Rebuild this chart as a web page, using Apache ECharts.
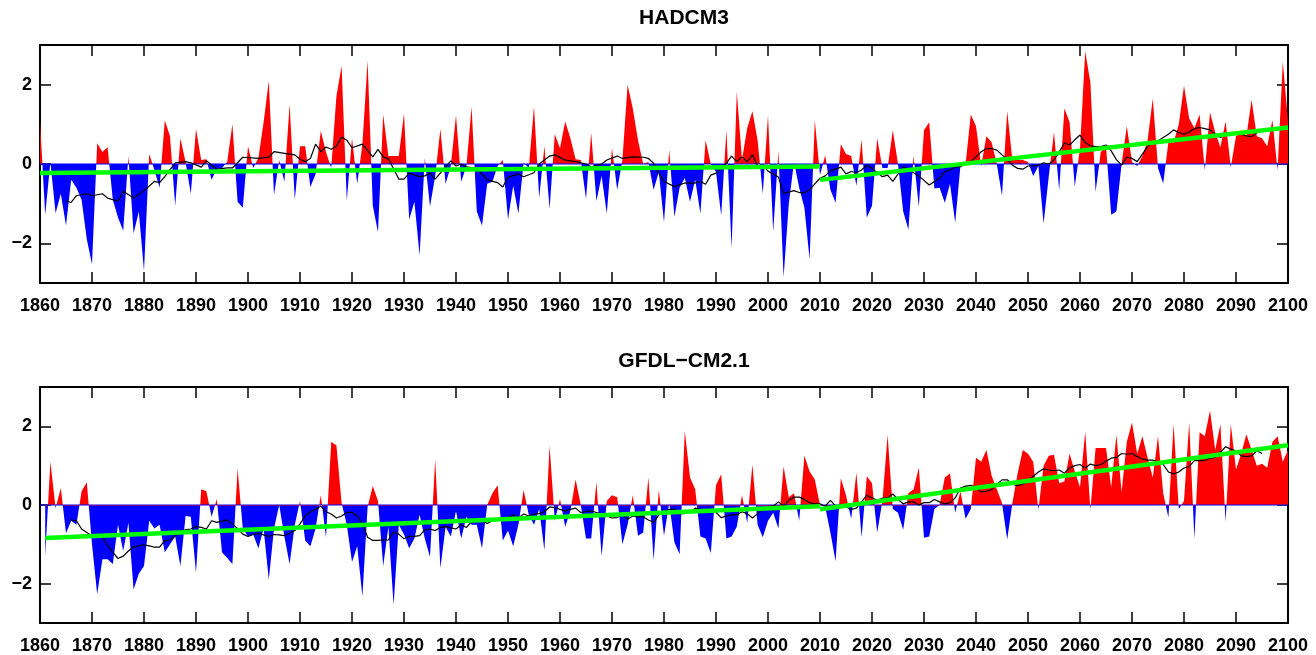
<!DOCTYPE html>
<html>
<head>
<meta charset="utf-8">
<title>HADCM3 / GFDL-CM2.1</title>
<script src="https://cdn.jsdelivr.net/npm/echarts@6/dist/echarts.min.js"></script>
<style>
  html, body { margin: 0; padding: 0; background: #fff; }
  #chart { width: 1316px; height: 655px; }
</style>
</head>
<body>
<div id="chart"></div>
<script>
// ---- data ----
const xTicks = [1860, 2100];
const yTickVals = [-2, 0, 2];

// HADCM3, yearly anomalies 1860..2100 (one row per decade)
const hadStart = 1860;
const hadValues = [
  1.1, -1.28, 0.05, -1.24, -0.75, -1.55, -0.4, -0.6, -0.9, -1.9,
  -2.53, 0.52, 0.3, 0.42, -0.9, -1.35, -1.68, 0.2, -1.75, -1.2,
  -2.7, 0.25, -0.15, -0.6, 1.1, 0.7, -1.05, 0.65, 0.05, -0.75,
  0.88, 0.1, 0.12, -0.4, -0.12, -0.1, 0.05, 1.0, -0.95, -1.1,
  0.45, -0.1, 0.15, 1.05, 2.1, -0.78, 0.1, -0.45, 1.5, -0.9,
  0.45, 0.45, -0.58, -0.25, 0.83, 0.3, -0.1, 1.7, 2.48, -0.92,
  0.65, -0.5, 0.5, 2.6, -1.05, -1.72, 1.25, 0.2, 0.2, 0.2,
  1.27, -1.4, -0.95, -2.3, 0.15, -1.07, -0.3, 0.88, -0.5, -0.05,
  1.23, -0.45, -0.05, 1.44, -1.2, -1.55, -0.5, -0.45, -0.05, 0.1,
  -1.4, -0.55, -1.25, 0.03, -0.1, 1.45, -0.85, 0.45, -1.13, 0.75,
  0.4, 1.07, 0.65, 0.12, 0.1, -0.88, 0.78, -0.93, -0.3, -1.25,
  0.4, -0.65, 0.1, 2.0, 1.4, 0.6, 0.0, 0.05, -0.65, -0.2,
  -1.47, 0.35, -1.33, -0.6, -0.35, -0.95, -0.4, -1.25, 0.6, 0.0,
  -0.2, -1.3, 0.85, -2.12, 1.82, 0.1, 0.9, 1.33, 0.6, -0.75,
  1.22, -1.7, 0.33, -2.85, -1.0, 0.05, -0.6, -1.1, -2.4, 1.1,
  -0.28, 0.22, -0.65, -0.98, 0.5, 0.25, 0.2, -0.55, 0.62, -1.35,
  -1.05, 0.65, -0.1, -0.1, 0.85, 0.0, -1.2, -1.65, 0.2, -1.08,
  0.85, 1.05, -0.62, -0.6, -0.98, -0.5, -1.48, -0.05, 0.0, 1.25,
  0.95, -0.05, 0.7, 0.55, 0.0, -0.8, 1.33, 0.1, 0.1, 0.1,
  0.05, -0.3, -0.05, -1.5, -0.3, 0.8, -0.66, 1.4, 1.05, -0.57,
  0.4, 2.84, 2.05, -0.7, 0.3, 0.45, -1.28, -1.2, 0.0, 0.95,
  0.05, -0.05, 0.2, 0.6, 1.65, -0.1, -0.49, 0.55, 0.55, 1.0,
  1.97, 1.15, 0.9, 1.25, -0.15, 1.3, 0.8, 0.42, 1.07, -0.08,
  0.7, 0.85, 0.7, 1.62, 0.7, 0.65, 0.45, 1.1, -0.15, 2.58,
  1.1
];

// HADCM3 running mean (black)
const hadMeanYears = [
  1865, 1866, 1867, 1869, 1870, 1872, 1873, 1875, 1876, 1878, 1880, 1882, 1883, 1884, 1886, 1888, 1889,
  1891, 1892, 1894, 1896, 1897, 1899, 1902, 1904, 1905, 1907, 1909, 1910, 1911, 1912, 1913, 1914, 1915,
  1916, 1917, 1918, 1919, 1920, 1922, 1924, 1925, 1926, 1927, 1929, 1930, 1931, 1933, 1934, 1935, 1936,
  1938, 1939, 1940, 1941, 1942, 1944, 1946, 1948, 1949, 1950, 1952, 1953, 1955, 1956, 1958, 1959, 1961,
  1963, 1965, 1966, 1968, 1969, 1971, 1972, 1974, 1976, 1977, 1978, 1979, 1980, 1982, 1984, 1986, 1987,
  1988, 1989, 1990, 1992, 1993, 1994, 1995, 1996, 1997, 1998, 1999, 2000, 2001, 2002, 2003, 2005, 2006,
  2007, 2008, 2009, 2010, 2011, 2012, 2013, 2014, 2015, 2016, 2017, 2018, 2019, 2020, 2022, 2023, 2024,
  2026, 2027, 2028, 2029, 2031, 2032, 2033, 2034, 2035, 2036, 2037, 2038, 2039, 2040, 2041, 2042, 2043,
  2044, 2045, 2046, 2047, 2048, 2049, 2050, 2051, 2052, 2053, 2054, 2055, 2056, 2057, 2058, 2059, 2060,
  2061, 2062, 2063, 2064, 2065, 2066, 2067, 2068, 2069, 2070, 2071, 2072, 2073, 2074, 2075, 2076, 2077,
  2078, 2079, 2080, 2081, 2082, 2083, 2084, 2085, 2086, 2087, 2088, 2089, 2090, 2091, 2092, 2093, 2094, 2095
];
const hadMean = [
  -0.93, -0.97, -0.8, -0.75, -0.8, -0.75, -0.86, -0.94, -0.69, -0.86, -0.67, -0.44, -0.47, -0.32, 0.03, 0.06, 0.03,
  -0.08, 0.08, -0.13, -0.1, -0.1, 0.17, 0.14, 0.17, 0.31, 0.27, 0.23, 0.12, 0.06, 0.14, 0.5, 0.31, 0.43,
  0.37, 0.45, 0.68, 0.6, 0.41, 0.5, 0.18, 0.37, 0.18, 0.13, -0.38, -0.38, -0.23, -0.32, -0.3, -0.23, -0.38,
  -0.07, 0.08, -0.05, 0.0, -0.07, -0.11, -0.4, -0.47, -0.58, -0.33, -0.25, -0.32, -0.22, 0.0, 0.2, 0.23, 0.1,
  0.06, 0.0, -0.07, 0.0, 0.1, 0.2, 0.14, 0.18, 0.17, 0.14, 0.02, -0.23, -0.44, -0.57, -0.48, -0.48, -0.44,
  -0.51, -0.28, -0.23, 0.02, 0.2, 0.06, 0.18, 0.06, 0.23, -0.05, -0.03, -0.18, -0.25, -0.33, -0.74, -0.67, -0.72,
  -0.72, -0.65, -0.5, -0.36, -0.3, -0.17, -0.13, -0.08, -0.25, -0.19, -0.22, -0.15, -0.03, -0.11, -0.32, -0.28, -0.44,
  -0.07, -0.15, -0.22, -0.3, -0.53, -0.44, -0.36, -0.19, -0.15, -0.08, -0.07, 0.02, 0.06, 0.18, 0.31, 0.39, 0.39,
  0.35, 0.23, 0.12, -0.03, -0.11, -0.13, -0.05, -0.05, -0.03, 0.03, 0.0, 0.1, 0.3, 0.53, 0.48, 0.61, 0.73,
  0.54, 0.46, 0.44, 0.44, 0.48, 0.33, 0.11, -0.03, 0.17, 0.14, 0.06, 0.25, 0.44, 0.53, 0.58, 0.67, 0.75,
  0.86, 0.79, 0.75, 0.81, 0.89, 0.92, 0.89, 0.86, 0.75, 0.67, 0.73, 0.75, 0.77, 0.75, 0.71, 0.69, 0.79, 0.84
];

// HADCM3 trend segments (green)
const hadTrendYears1 = [1860, 2010];
const hadTrend1 = [-0.23, -0.06];
const hadTrendYears2 = [2010, 2100];
const hadTrend2 = [-0.4, 0.92];

// GFDL-CM2.1, yearly anomalies 1861..2100
const gfdlStart = 1861;
const gfdlValues = [
  -1.3, 1.1, -0.08, 0.43, -0.72, -0.4, -0.5, 0.35, 0.58,
  -1.0, -2.27, -1.38, -1.38, -1.5, -0.5, -1.17, -0.45, -2.15, -1.75,
  -1.55, -0.4, -0.6, -0.5, -1.2, -1.0, -0.8, -1.55, -0.28, -0.3,
  -1.72, 0.4, 0.35, -0.3, 0.15, -1.2, -1.35, -1.5, 0.92, -0.6,
  -0.8, -0.75, -1.1, -0.6, -1.9, -0.6, 0.0, -0.8, -1.5, -0.5,
  0.1, -0.9, -1.05, -0.6, 0.25, -0.82, 1.6, 1.52, 0.05, -0.5,
  -1.45, -1.05, -2.32, -0.05, 0.48, 0.1, -1.55, -0.55, -2.54, -0.5,
  -0.75, -1.1, -0.85, -0.25, -0.85, -1.32, 1.16, -1.6, -0.55, -0.8,
  -0.15, -0.85, -0.3, -0.5, -0.5, -1.1, 0.0, 0.3, 0.5, -0.9,
  -0.65, -1.05, -0.5, 0.38, -0.25, -0.5, -0.1, -1.15, 1.5, -0.4,
  0.15, -0.55, -0.15, 0.65, 0.0, -0.85, -0.85, 0.58, -1.3, 0.1,
  0.25, 0.2, -1.0, -0.5, 0.25, -0.78, -0.7, 0.7, -1.4, 0.38,
  -0.78, 0.05, -0.95, -1.25, 1.88, 0.7, 0.4, -0.8, -0.85, -1.22,
  0.5, 0.78, -0.85, -0.8, -0.55, 0.25, -0.45, 1.03, -0.5, -0.82,
  -0.4, -0.2, -0.6, 0.98, 0.2, 0.3, -0.4, 1.25, 0.85, 0.65,
  0.0, -0.05, -0.7, -1.43, 0.68, 0.25, -0.35, 0.82, -0.82, 0.73,
  0.55, -0.7, 0.1, 1.78, -0.1, -0.2, -0.63, 0.3, 0.4, 0.95,
  -0.83, -0.8, -0.1, 0.0, 0.7, 0.8, -0.2, 0.35, -0.35, -0.1,
  1.2, 1.1, 1.4, 0.75, 0.4, 0.05, -0.88, 0.05, 0.8, 1.4,
  1.3, 1.1, -0.12, 1.0, 1.25, 1.28, 0.55, 0.6, 1.3, 0.85,
  0.45, 1.86, -0.12, 1.45, 1.45, 1.45, 0.45, 1.78, 0.33, 1.6,
  2.1, 1.3, 1.75, 1.2, 0.7, 1.75, 0.3, -0.32, 2.05, -0.1,
  0.1, 2.1, -0.85, 1.85, 1.75, 2.4, 1.4, 2.05, -0.42, 2.05,
  0.9, 1.3, 1.8, 1.4, 1.0, 1.05, 0.95, 1.6, 1.75, 1.1,
  1.4
];

// GFDL running mean (black), yearly 1866..2095
const gfdlMeanStart = 1866;
const gfdlMean = [
  -0.38, -0.4, -0.61, -0.7, -0.78, -0.8, -0.82, -1.03, -1.2, -1.36,
  -1.3, -1.17, -1.07, -1.04, -1.01, -1.04, -1.07, -1.07, -0.9, -0.89,
  -0.78, -0.69, -0.63, -0.61, -0.55, -0.57, -0.61, -0.4, -0.44, -0.41,
  -0.38, -0.48, -0.6, -0.74, -0.8, -0.75, -0.72, -0.76, -0.8, -0.75,
  -0.76, -0.78, -0.72, -0.65, -0.48, -0.28, -0.17, -0.11, -0.03, -0.17,
  -0.23, -0.33, -0.28, -0.19, -0.19, -0.28, -0.47, -0.82, -0.9, -0.9,
  -0.89, -0.89, -0.69, -0.74, -0.86, -0.8, -0.8, -0.78, -0.63, -0.61,
  -0.65, -0.57, -0.55, -0.58, -0.61, -0.5, -0.57, -0.42, -0.36, -0.38,
  -0.47, -0.4, -0.36, -0.34, -0.32, -0.25, -0.33, -0.23, -0.28, -0.23,
  -0.22, -0.17, -0.05, -0.07, -0.11, -0.15, -0.11, -0.08, -0.19, -0.17,
  -0.15, -0.19, -0.23, -0.28, -0.33, -0.32, -0.25, -0.36, -0.28, -0.3,
  -0.3, -0.38, -0.44, -0.25, -0.19, -0.11, -0.11, -0.22, -0.22, -0.19,
  -0.08, -0.11, -0.13, -0.13, -0.19, -0.32, -0.28, -0.25, -0.25, -0.17,
  -0.22, -0.33, -0.22, -0.11, -0.05, -0.03, 0.08, -0.03, 0.12, 0.2,
  0.2, 0.14, 0.06, 0.03, 0.03, -0.03, 0.12, -0.03, -0.03, -0.05,
  -0.11, -0.08, 0.08, 0.25, 0.18, 0.12, 0.17, 0.18, 0.28, 0.14,
  0.03, 0.08, 0.08, 0.0, 0.06, 0.06, 0.14, 0.08, 0.03, 0.06,
  0.18, 0.43, 0.48, 0.5, 0.45, 0.33, 0.35, 0.39, 0.52, 0.64,
  0.64, 0.53, 0.49, 0.53, 0.6, 0.73, 0.84, 0.92, 0.89, 0.87,
  0.89, 0.81, 0.94, 1.0, 1.03, 0.94, 1.04, 1.0, 1.03, 1.11,
  1.19, 1.21, 1.31, 1.29, 1.31, 1.23, 1.17, 1.14, 1.14, 1.09,
  1.03, 0.84, 0.79, 0.84, 0.94, 0.98, 1.13, 1.13, 1.13, 1.19,
  1.21, 1.34, 1.48, 1.42, 1.38, 1.25, 1.23, 1.25, 1.38, 1.31
];

// GFDL trend segments (green)
const gfdlTrendYears1 = [1861, 2010];
const gfdlTrend1 = [-0.84, -0.03];
const gfdlTrendYears2 = [2010, 2100];
const gfdlTrend2 = [-0.11, 1.52];

// ---- build ----
const FONT = "Liberation Sans";
const zip = (xs, ys) => xs.map((x, i) => [x, ys[i]]);
const yearly = (start, vals) => vals.map((v, i) => [start + i, v]);

const grids = [
  { left: 40, top: 45, width: 1248, height: 238 },
  { left: 40, top: 387, width: 1248, height: 238 },
];

function xAxes(gi) {
  const base = {
    gridIndex: gi, type: "value", min: xTicks[0], max: xTicks[1], interval: 10,
    axisLine: { show: true, onZero: false, lineStyle: { color: "#000", width: 2 } },
    axisTick: { show: true, inside: true, length: 11, lineStyle: { color: "#000", width: 1.5 } },
    splitLine: { show: false },
  };
  return [
    { ...base, position: "bottom",
      axisLabel: { show: true, margin: 14, color: "#000", fontFamily: FONT, fontWeight: "bold", fontSize: 18,
        formatter: v => String(v) } },
    { ...base, position: "top", axisLabel: { show: false } },
  ];
}

function yAxes(gi) {
  const base = {
    gridIndex: gi, type: "value", min: -3, max: 3,
    axisLine: { show: true, onZero: false, lineStyle: { color: "#000", width: 2 } },
    axisTick: { show: true, inside: true, length: 11, customValues: yTickVals, lineStyle: { color: "#000", width: 1.5 } },
    splitLine: { show: false },
  };
  return [
    { ...base, position: "left",
      axisLabel: { show: true, margin: 8, customValues: yTickVals, color: "#000", fontFamily: FONT, fontWeight: "bold", fontSize: 18,
        formatter: v => (v < 0 ? "\u2212" + (-v) : String(v)) } },
    { ...base, position: "right", axisLabel: { show: false } },
  ];
}

// red above zero, blue below: hard stop at the middle of the grid (y range is symmetric)
function splitFill(g) {
  return {
    type: "linear", global: true, x: 0, y: g.top, x2: 0, y2: g.top + g.height,
    colorStops: [
      { offset: 0, color: "#ff0000" }, { offset: 0.5, color: "#ff0000" },
      { offset: 0.5, color: "#0000ff" }, { offset: 1, color: "#0000ff" },
    ],
  };
}

function panelSeries(gi, vals, mean, t1, t2) {
  const xi = gi * 2, yi = gi * 2;
  return [
    { type: "line", xAxisIndex: xi, yAxisIndex: yi, data: vals, symbol: "none",
      lineStyle: { width: 0 }, areaStyle: { opacity: 1, color: splitFill(grids[gi]) }, z: 2 },
    { type: "line", xAxisIndex: xi, yAxisIndex: yi, data: zip(xTicks, [0, 0]), symbol: "none",
      lineStyle: { color: "#0000ff", width: 1 }, z: 3 },
    { type: "line", xAxisIndex: xi, yAxisIndex: yi, data: mean, symbol: "none",
      lineStyle: { color: "#000", width: 1.2 }, z: 4 },
    { type: "line", xAxisIndex: xi, yAxisIndex: yi, data: t1, symbol: "none",
      lineStyle: { color: "#00ff00", width: 4.5, cap: "butt" }, z: 5 },
    { type: "line", xAxisIndex: xi, yAxisIndex: yi, data: t2, symbol: "none",
      lineStyle: { color: "#00ff00", width: 4.5, cap: "butt" }, z: 5 },
  ];
}

const series = [
  ...panelSeries(0, yearly(hadStart, hadValues), zip(hadMeanYears, hadMean),
    zip(hadTrendYears1, hadTrend1), zip(hadTrendYears2, hadTrend2)),
  ...panelSeries(1, yearly(gfdlStart, gfdlValues), yearly(gfdlMeanStart, gfdlMean),
    zip(gfdlTrendYears1, gfdlTrend1), zip(gfdlTrendYears2, gfdlTrend2)),
];

const chart = echarts.init(document.getElementById("chart"), null, { renderer: "canvas" });
chart.setOption({
  animation: false,
  backgroundColor: "#fff",
  title: [
    { text: "HADCM3", left: 684, top: 8, textAlign: "center", padding: 0,
      textStyle: { fontFamily: FONT, fontWeight: "bold", fontSize: 21, color: "#000" } },
    { text: "GFDL\u2212CM2.1", left: 684, top: 351, textAlign: "center", padding: 0,
      textStyle: { fontFamily: FONT, fontWeight: "bold", fontSize: 21, color: "#000" } },
  ],
  grid: grids,
  xAxis: [...xAxes(0), ...xAxes(1)],
  yAxis: [...yAxes(0), ...yAxes(1)],
  series,
});
</script>
</body>
</html>
